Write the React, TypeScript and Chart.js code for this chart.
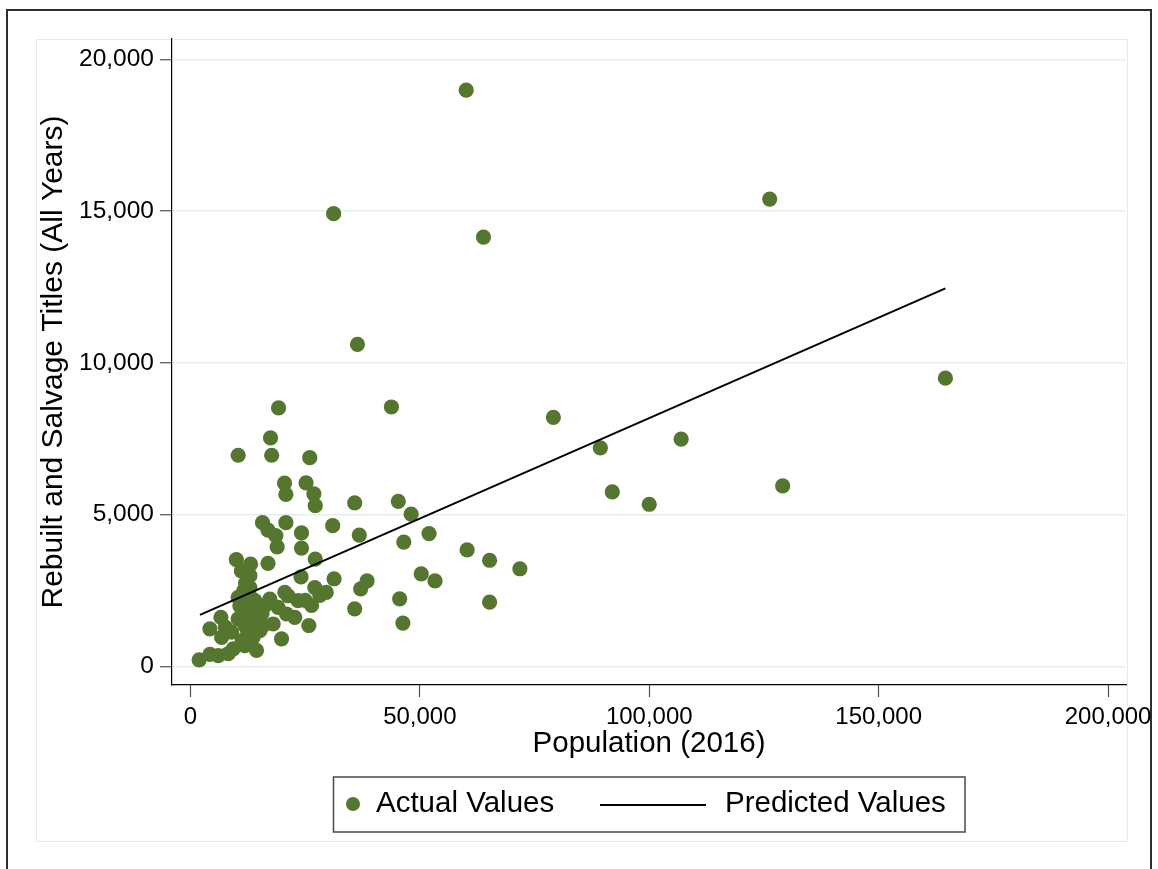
import React, { useEffect, useRef } from "react";
import { Chart, registerables } from "chart.js";

Chart.register(...registerables);

// ---- Data ----
const populations = [
  60100, 126250, 31200, 63870, 36400, 164550, 43800, 79100, 19200, 17450,
  106950, 89330, 10400, 17700, 26000, 20500, 25200, 20800, 26900, 27200,
  35800, 45300, 48100, 91940, 99990, 129080, 15700, 20800, 16900, 18600,
  24200, 31000, 36800, 46500, 52000, 18900, 24200, 27200, 60300, 65200,
  71800, 10000, 13100, 16900, 11100, 24100, 31300, 27100, 29600, 28200,
  25000, 26400, 38500, 37100, 50300, 53300, 45600, 65200, 35800, 46300,
  25800, 1900, 4240, 6050, 8230, 9320, 4240, 6640, 6790, 8970,
  10400, 10400, 12950, 14030, 11860, 14400, 13660, 15840, 18020, 17300,
  19100, 19850, 20560, 22740, 23460, 12300, 11860, 13400, 10770, 14250,
  15120, 12950, 11640, 21280, 20930, 11500, 12500, 13000, 14800, 12000,
  15600, 13600, 11300, 16200, 7600,
];
const titles = [
  18990, 15400, 14920, 14150, 10610, 9500, 8550, 8210, 8520, 7530,
  7490, 7200, 6960, 6960, 6880, 6040, 6050, 5670, 5690, 5300,
  5390, 5440, 5020, 5750, 5345, 5950, 4740, 4740, 4490, 4310,
  4400, 4640, 4330, 4100, 4380, 3940, 3900, 3540, 3840, 3500,
  3220, 3520, 3370, 3400, 3150, 2950, 2890, 2600, 2440, 2340,
  2180, 2010, 2820, 2560, 3050, 2820, 2230, 2120, 1900, 1430,
  1350, 220, 400, 360, 420, 580, 1240, 1620, 960, 1130,
  1570, 2280, 2600, 2170, 690, 530, 960, 1350, 1400, 2220,
  1950, 910, 2440, 1620, 2170, 1840, 1350, 1510, 2000, 1770,
  1180, 2990, 2500, 2330, 1730, 1900, 1100, 2300, 1500, 2750,
  1750, 1950, 850, 2000, 1300,
];
const predictedX = [2070, 164550];
const predictedY = [1700, 12460];

const xTicks = [0, 50000, 100000, 150000, 200000];
const yTicks = [0, 5000, 10000, 15000, 20000];
const xRange = [-4024, 203915];
const yRange = [-610, 20675];

const xTitle = "Population (2016)";
const yTitle = "Rebuilt and Salvage Titles (All Years)";
const seriesNames = ["Actual Values", "Predicted Values"];

// ---- Styles ----
const W = 1158;
const H = 869;
const FONT = "'Liberation Sans', Arial, sans-serif";
const GREEN = "#55762f";
const GRID = "#e6eef0";
const TICK = "#505050";

const fmt = (v: number) => Math.round(v).toLocaleString("en-US");

const framePlugin = {
  id: "frameAndLegend",
  beforeDraw(chart: any) {
    const ctx = chart.ctx;
    ctx.save();
    ctx.fillStyle = "#ffffff";
    ctx.fillRect(0, 0, W, H);
    // inner light graph-region frame
    ctx.strokeStyle = "#e3ebee";
    ctx.lineWidth = 1;
    ctx.strokeRect(36.5, 39.5, 1091, 802);
    // outer dark frame
    ctx.strokeStyle = "#2e2e2e";
    ctx.lineWidth = 2;
    ctx.strokeRect(7, 10, 1144, 900);
    ctx.restore();
  },
  afterDraw(chart: any) {
    const ctx = chart.ctx;
    const ds0 = chart.data.datasets[0];
    const ds1 = chart.data.datasets[1];
    ctx.save();
    ctx.strokeStyle = "#4a4a4a";
    ctx.lineWidth = 1.5;
    ctx.strokeRect(333.5, 777, 631.5, 55);
    ctx.fillStyle = ds0.backgroundColor;
    ctx.beginPath();
    ctx.arc(353, 804, 7, 0, Math.PI * 2);
    ctx.fill();
    ctx.font = `29.5px ${FONT}`;
    ctx.fillStyle = "#000";
    ctx.textBaseline = "middle";
    ctx.textAlign = "left";
    ctx.fillText(ds0.label, 376, 804);
    ctx.strokeStyle = ds1.borderColor;
    ctx.lineWidth = 2;
    ctx.beginPath();
    ctx.moveTo(600, 805);
    ctx.lineTo(706, 805);
    ctx.stroke();
    ctx.fillText(ds1.label, 725, 804);
    ctx.restore();
  },
};

export default function App() {
  const ref = useRef<HTMLCanvasElement | null>(null);

  useEffect(() => {
    if (!ref.current) return;
    const chart = new Chart(ref.current, {
      type: "scatter",
      data: {
        datasets: [
          {
            label: seriesNames[0],
            data: populations.map((x, i) => ({ x, y: titles[i] })),
            backgroundColor: GREEN,
            borderWidth: 0,
            pointRadius: 7.6,
            pointHoverRadius: 7.6,
            order: 1,
          },
          {
            label: seriesNames[1],
            data: predictedX.map((x, i) => ({ x, y: predictedY[i] })),
            showLine: true,
            borderColor: "#000000",
            backgroundColor: "#000000",
            borderWidth: 2,
            pointRadius: 0,
            fill: false,
            order: 0,
          },
        ],
      },
      options: {
        animation: false,
        responsive: false,
        devicePixelRatio: 1,
        layout: { padding: { top: 39, right: 30, left: 0, bottom: 0 } },
        plugins: {
          legend: { display: false },
          tooltip: { enabled: false },
        },
        scales: {
          x: {
            type: "linear",
            position: "bottom",
            min: xRange[0],
            max: xRange[1],
            afterBuildTicks: (s: any) => {
              s.ticks = xTicks.map((v) => ({ value: v }));
            },
            afterFit: (s: any) => {
              s.height = H - 685;
            },
            grid: {
              drawOnChartArea: false,
              drawTicks: true,
              tickLength: 12,
              tickColor: TICK,
              tickWidth: 1.2,
            },
            border: { display: true, color: "#000", width: 1.2 },
            ticks: {
              color: "#000",
              font: { family: FONT, size: 24 },
              padding: 6,
              maxRotation: 0,
              autoSkip: false,
              callback: (v: any) => fmt(Number(v)),
            },
            title: {
              display: true,
              text: xTitle,
              color: "#000",
              font: { family: FONT, size: 29.5 },
              padding: { top: 0, bottom: 107 },
            },
          },
          y: {
            type: "linear",
            position: "left",
            min: yRange[0],
            max: yRange[1],
            afterBuildTicks: (s: any) => {
              s.ticks = yTicks.map((v) => ({ value: v }));
            },
            afterFit: (s: any) => {
              s.width = 172;
            },
            grid: {
              color: GRID,
              lineWidth: 1.5,
              drawOnChartArea: true,
              drawTicks: true,
              tickLength: 12,
              tickColor: TICK,
              tickWidth: 1.2,
            },
            border: { display: true, color: "#000", width: 1.2 },
            ticks: {
              color: "#000",
              font: { family: FONT, size: 24.5 },
              padding: 6,
              autoSkip: false,
              callback: (v: any) => fmt(Number(v)),
            },
            title: {
              display: true,
              text: yTitle,
              color: "#000",
              font: { family: FONT, size: 30 },
              padding: { top: 36, bottom: 0 },
            },
          },
        },
      },
      plugins: [framePlugin],
    } as any);
    return () => chart.destroy();
  }, []);

  return (
    <div style={{ position: "fixed", left: 0, top: 0, width: W, height: H, background: "#fff" }}>
      <canvas ref={ref} width={W} height={H} style={{ display: "block", width: W, height: H }} />
    </div>
  );
}
